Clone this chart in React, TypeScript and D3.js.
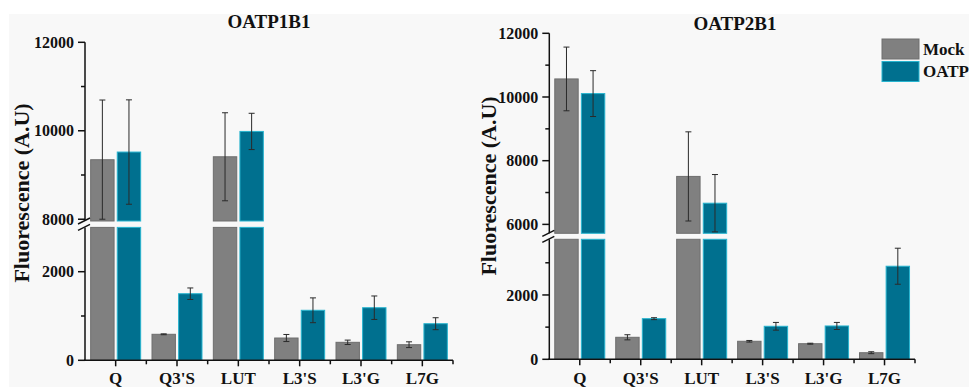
import { useEffect, useRef } from 'react';
import * as d3 from 'd3';

const categories = ['Q', "Q3'S", 'LUT', "L3'S", "L3'G", 'L7G'];
const series = ['Mock', 'OATP'];

// OATP1B1 panel
const mock1B1 = [9345, 587, 9412, 503, 406, 352];
const mock1B1Err = [1350, 10, 995, 80, 50, 65];
const oatp1B1 = [9519, 1503, 9985, 1129, 1187, 826];
const oatp1B1Err = [1180, 130, 410, 280, 265, 135];

// OATP2B1 panel
const mock2B1 = [10567, 684, 7506, 560, 485, 205];
const mock2B1Err = [1000, 80, 1400, 25, 15, 30];
const oatp2B1 = [10107, 1263, 6665, 1026, 1036, 2893];
const oatp2B1Err = [720, 30, 900, 120, 110, 560];

const colors = { Mock: '#808080', OATP: '#00708f' };
const strokes = { Mock: '#6e6e6e', OATP: '#27b4cf' };

const panels = [
  {
    title: 'OATP1B1',
    mock: mock1B1, mockErr: mock1B1Err, oatp: oatp1B1, oatpErr: oatp1B1Err,
    x0: 85, x1: 453,
    lower: { domain: [0, 3000], range: [360.3, 227.4] },
    upper: { domain: [7960, 12000], range: [221, 42.3] },
    lowerTicks: [0, 2000], lowerMinor: [1000],
    upperTicks: [8000, 10000, 12000], upperMinor: [9000, 11000],
    titleX: 269, titleY: 28, labelX: 29, labelY: 193,
  },
  {
    title: 'OATP2B1',
    mock: mock2B1, mockErr: mock2B1Err, oatp: oatp2B1, oatpErr: oatp2B1Err,
    x0: 549.3, x1: 915,
    lower: { domain: [0, 3730], range: [359.3, 239.3] },
    upper: { domain: [5720, 12000], range: [233.3, 33.3] },
    lowerTicks: [0, 2000], lowerMinor: [1000, 3000],
    upperTicks: [6000, 8000, 10000, 12000], upperMinor: [7000, 9000, 11000],
    titleX: 735, titleY: 30, labelX: 496, labelY: 186,
  },
];

const App = () => {
  const svgRef = useRef(null);

  useEffect(() => {
    const svg = d3.select(svgRef.current);
    svg.selectAll('*').remove();

    const font = "'Liberation Serif', 'Times New Roman', serif";

    svg.append('rect')
      .attr('x', 9).attr('y', 14)
      .attr('width', 960).attr('height', 373)
      .attr('fill', '#f8f8f8');

    panels.forEach(p => {
      const g = svg.append('g');
      const x = d3.scaleBand().domain(categories).range([p.x0, p.x1]);
      const xs = d3.scaleBand().domain(series).range([-25, 25]).paddingInner(0.12);
      const yL = d3.scaleLinear().domain(p.lower.domain).range(p.lower.range);
      const yU = d3.scaleLinear().domain(p.upper.domain).range(p.upper.range);
      const lowMax = p.lower.domain[1];
      const upMin = p.upper.domain[0];

      const rows = [];
      categories.forEach((c, i) => {
        rows.push({ c, s: 'Mock', v: p.mock[i], e: p.mockErr[i] });
        rows.push({ c, s: 'OATP', v: p.oatp[i], e: p.oatpErr[i] });
      });

      rows.forEach(d => {
        const bx = x(d.c) + x.bandwidth() / 2 + xs(d.s);
        const bw = xs.bandwidth();
        const lowTop = yL(Math.min(d.v, lowMax));
        g.append('rect')
          .attr('x', bx).attr('y', lowTop)
          .attr('width', bw).attr('height', yL(0) - lowTop)
          .attr('fill', colors[d.s]).attr('stroke', strokes[d.s]).attr('stroke-width', 1);
        if (d.v > upMin) {
          const upTop = yU(d.v);
          g.append('rect')
            .attr('x', bx).attr('y', upTop)
            .attr('width', bw).attr('height', yU(upMin) - upTop)
            .attr('fill', colors[d.s]).attr('stroke', strokes[d.s]).attr('stroke-width', 1);
        }
        // error bar
        const y = d.v > upMin ? yU : yL;
        const hi = d.v + d.e;
        const lo = Math.max(d.v - d.e, d.v > upMin ? upMin + 40 : 0);
        const cx = bx + bw / 2;
        const col = '#2a2a2a';
        g.append('line')
          .attr('x1', cx).attr('x2', cx).attr('y1', y(hi)).attr('y2', y(lo))
          .attr('stroke', col).attr('stroke-width', 1);
        [hi, lo].forEach(v => {
          g.append('line')
            .attr('x1', cx - 3).attr('x2', cx + 3).attr('y1', y(v)).attr('y2', y(v))
            .attr('stroke', col).attr('stroke-width', 1);
        });
      });

      // y axis lines
      const axisG = g.append('g').attr('stroke', '#111').attr('stroke-width', 1.5);
      axisG.append('line')
        .attr('x1', p.x0).attr('x2', p.x0)
        .attr('y1', p.lower.range[0]).attr('y2', p.lower.range[1]);
      axisG.append('line')
        .attr('x1', p.x0).attr('x2', p.x0)
        .attr('y1', p.upper.range[0]).attr('y2', p.upper.range[1]);
      // break marks
      [p.upper.range[0], p.lower.range[1]].forEach(by => {
        axisG.append('line')
          .attr('x1', p.x0 - 7).attr('y1', by + 3)
          .attr('x2', p.x0 + 5).attr('y2', by - 3);
      });

      const yTicks = (scale, ticks, minor) => {
        ticks.forEach(t => {
          axisG.append('line')
            .attr('x1', p.x0 - 7).attr('x2', p.x0).attr('y1', scale(t)).attr('y2', scale(t));
          g.append('text')
            .attr('x', p.x0 - 11).attr('y', scale(t))
            .attr('dy', '0.35em').attr('text-anchor', 'end')
            .attr('font-family', font).attr('font-weight', 'bold').attr('font-size', 16)
            .attr('fill', '#111')
            .text(t);
        });
        minor.forEach(t => {
          axisG.append('line')
            .attr('x1', p.x0 - 4).attr('x2', p.x0).attr('y1', scale(t)).attr('y2', scale(t));
        });
      };
      yTicks(yL, p.lowerTicks, p.lowerMinor);
      yTicks(yU, p.upperTicks, p.upperMinor);

      // x axis
      const base = p.lower.range[0];
      axisG.append('line')
        .attr('x1', p.x0 - 1).attr('x2', p.x1).attr('y1', base).attr('y2', base);
      categories.forEach(c => {
        const cx = x(c) + x.bandwidth() / 2;
        axisG.append('line')
          .attr('x1', cx).attr('x2', cx).attr('y1', base).attr('y2', base + 6);
        axisG.append('line')
          .attr('x1', x(c) + x.bandwidth()).attr('x2', x(c) + x.bandwidth())
          .attr('y1', base).attr('y2', base + 4);
        g.append('text')
          .attr('x', cx).attr('y', 384)
          .attr('text-anchor', 'middle')
          .attr('font-family', font).attr('font-weight', 'bold').attr('font-size', 17)
          .attr('fill', '#111')
          .text(c);
      });

      g.append('text')
        .attr('x', p.titleX).attr('y', p.titleY)
        .attr('text-anchor', 'middle')
        .attr('font-family', font).attr('font-weight', 'bold').attr('font-size', 19)
        .attr('fill', '#111')
        .text(p.title);

      g.append('text')
        .attr('transform', `translate(${p.labelX}, ${p.labelY}) rotate(-90)`)
        .attr('text-anchor', 'middle')
        .attr('font-family', font).attr('font-weight', 'bold').attr('font-size', 22)
        .attr('fill', '#111')
        .text('Fluorescence (A.U)');
    });

    // legend
    const legend = svg.append('g').attr('transform', 'translate(882, 39)');
    series.forEach((s, i) => {
      legend.append('rect')
        .attr('x', 0).attr('y', i * 22.5)
        .attr('width', 37).attr('height', 20)
        .attr('fill', colors[s]).attr('stroke', strokes[s]);
      legend.append('text')
        .attr('x', 41).attr('y', i * 22.5 + 10)
        .attr('dy', '0.35em')
        .attr('font-family', font).attr('font-weight', 'bold').attr('font-size', 17)
        .attr('fill', '#111')
        .text(s);
    });
  }, []);

  return (
    <svg ref={svgRef} width={969} height={387}
      style={{ position: 'absolute', left: 0, top: 0, background: '#fff' }} />
  );
};

export default App;
